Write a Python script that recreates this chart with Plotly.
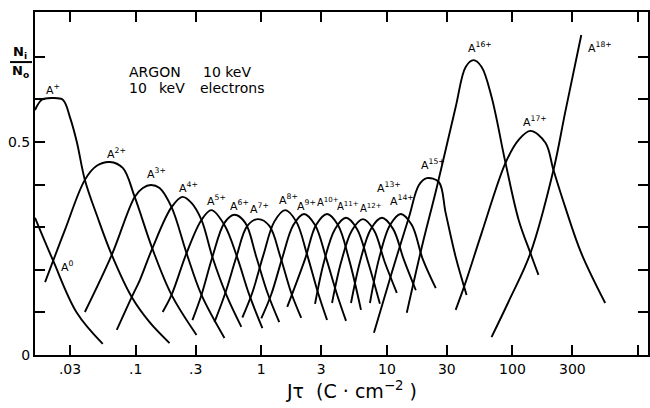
import numpy as np
import plotly.graph_objects as go

# ---- data (x = J*tau in C/cm^2, y = Ni/No) ----
A0_x = [0.0158, 0.0219, 0.0340, 0.0547]
A0_y = [0.322, 0.223, 0.099, 0.026]

A1_x = [0.0158, 0.0179, 0.0215, 0.0263, 0.0299, 0.0340, 0.0394, 0.0499, 0.0645, 0.0930, 0.129, 0.186]
A1_y = [0.575, 0.599, 0.603, 0.599, 0.559, 0.500, 0.411, 0.322, 0.235, 0.136, 0.077, 0.028]

A2_x = [0.0190, 0.0273, 0.0394, 0.0490, 0.0622, 0.0789, 0.0982, 0.136, 0.193, 0.305]
A2_y = [0.171, 0.293, 0.411, 0.444, 0.453, 0.439, 0.371, 0.249, 0.141, 0.047]

A3_x = [0.0394, 0.0645, 0.0982, 0.114, 0.132, 0.155, 0.193, 0.254, 0.334, 0.509]
A3_y = [0.101, 0.235, 0.371, 0.392, 0.399, 0.392, 0.347, 0.239, 0.141, 0.040]

A4_x = [0.0707, 0.0930, 0.108, 0.136, 0.193, 0.236, 0.278, 0.334, 0.408, 0.527, 0.694]
A4_y = [0.059, 0.136, 0.176, 0.251, 0.347, 0.371, 0.357, 0.317, 0.230, 0.141, 0.066]

A5_x = [0.164, 0.193, 0.254, 0.334, 0.401, 0.509, 0.645, 0.803, 1.02]
A5_y = [0.101, 0.141, 0.239, 0.317, 0.340, 0.305, 0.228, 0.141, 0.063]

A6_x = [0.283, 0.334, 0.408, 0.509, 0.611, 0.746, 0.913, 1.12, 1.39]
A6_y = [0.082, 0.141, 0.230, 0.310, 0.329, 0.310, 0.230, 0.146, 0.077]

A7_x = [0.424, 0.518, 0.633, 0.774, 0.947, 1.16, 1.42, 1.73, 2.08]
A7_y = [0.077, 0.146, 0.230, 0.303, 0.319, 0.303, 0.230, 0.146, 0.087]

A8_x = [0.707, 0.848, 1.04, 1.27, 1.55, 1.90, 2.32, 2.83, 3.34]
A8_y = [0.088, 0.146, 0.235, 0.313, 0.340, 0.313, 0.235, 0.146, 0.082]

A9_x = [1.00, 1.20, 1.47, 1.80, 2.19, 2.68, 3.28, 4.01, 4.73]
A9_y = [0.086, 0.142, 0.228, 0.305, 0.331, 0.305, 0.228, 0.142, 0.080]

A10_x = [1.61, 2.23, 2.73, 3.34, 4.08, 4.99, 6.22]
A10_y = [0.113, 0.225, 0.305, 0.331, 0.305, 0.225, 0.106]

A11_x = [2.68, 3.16, 3.87, 4.73, 5.78, 7.07, 8.80]
A11_y = [0.120, 0.219, 0.296, 0.322, 0.296, 0.219, 0.120]

A12_x = [3.66, 4.31, 5.28, 6.45, 7.89, 9.64, 12.0]
A12_y = [0.122, 0.217, 0.293, 0.319, 0.293, 0.217, 0.146]

A13_x = [5.18, 6.11, 7.46, 9.13, 11.2, 13.6, 17.0]
A13_y = [0.122, 0.219, 0.296, 0.322, 0.296, 0.225, 0.152]

A14_x = [7.33, 8.64, 10.6, 12.9, 15.8, 19.3, 24.5]
A14_y = [0.122, 0.225, 0.305, 0.331, 0.305, 0.225, 0.157]

A15_x = [7.89, 10.8, 15.0, 18.0, 20.8, 25.9, 29.4, 35.3, 43.1]
A15_y = [0.052, 0.188, 0.324, 0.399, 0.415, 0.406, 0.333, 0.230, 0.141]

A16_x = [14.4, 19.0, 24.9, 35.3, 42.4, 49.0, 56.8, 68.1, 88.0, 112, 139, 161]
A16_y = [0.099, 0.254, 0.392, 0.582, 0.676, 0.692, 0.676, 0.606, 0.451, 0.317, 0.239, 0.188]

A17_x = [35.3, 41.6, 56.8, 88.0, 112, 139, 183, 212, 263, 353, 547]
A17_y = [0.106, 0.164, 0.286, 0.451, 0.505, 0.526, 0.498, 0.434, 0.347, 0.239, 0.122]

A18_x = [68.1, 93.0, 139, 212, 263, 353]
A18_y = [0.042, 0.125, 0.239, 0.434, 0.570, 0.751]

label_text = ["A<sup>0</sup>", "A<sup>+</sup>", "A<sup>2+</sup>", "A<sup>3+</sup>", "A<sup>4+</sup>",
              "A<sup>5+</sup>", "A<sup>6+</sup>", "A<sup>7+</sup>", "A<sup>8+</sup>", "A<sup>9+</sup>",
              "A<sup>10+</sup>", "A<sup>11+</sup>", "A<sup>12+</sup>", "A<sup>13+</sup>", "A<sup>14+</sup>",
              "A<sup>15+</sup>", "A<sup>16+</sup>", "A<sup>17+</sup>", "A<sup>18+</sup>"]
label_x = [0.0289, 0.0219, 0.0707, 0.147, 0.263, 0.439, 0.669, 0.964, 1.64, 2.30,
           3.42, 4.90, 7.46, 10.4, 13.2, 23.2, 54.7, 150, 499]
label_y = [0.207, 0.622, 0.474, 0.427, 0.394, 0.362, 0.352, 0.345, 0.366, 0.352,
           0.360, 0.350, 0.344, 0.392, 0.362, 0.448, 0.721, 0.549, 0.721]
label_size = [11, 11, 11, 11, 11, 11, 11, 11, 11, 11,
              10, 10, 10, 11, 11, 11, 11, 11, 11]

x_tickvals = [0.03, 0.1, 0.3, 1, 3, 10, 30, 100, 300, 1000]
x_ticktext = [".03", ".1", ".3", "1", "3", "10", "30", "100", "300", ""]
y_tickvals = [0, 0.1, 0.2, 0.3, 0.4, 0.5, 0.6, 0.7]
y_ticktext = ["0", "", "", "", "", "0.5", "", ""]

series = [(A0_x, A0_y), (A1_x, A1_y), (A2_x, A2_y), (A3_x, A3_y), (A4_x, A4_y),
          (A5_x, A5_y), (A6_x, A6_y), (A7_x, A7_y), (A8_x, A8_y), (A9_x, A9_y),
          (A10_x, A10_y), (A11_x, A11_y), (A12_x, A12_y), (A13_x, A13_y), (A14_x, A14_y),
          (A15_x, A15_y), (A16_x, A16_y), (A17_x, A17_y), (A18_x, A18_y)]

FONT = "DejaVu Sans"

fig = go.Figure()
for sx, sy in series:
    fig.add_trace(go.Scatter(x=sx, y=sy, mode="lines", showlegend=False, hoverinfo="skip",
                             line=dict(color="black", width=1.9, shape="spline", smoothing=1.0)))

for t, lx, ly, ls in zip(label_text, label_x, label_y, label_size):
    fig.add_annotation(x=np.log10(lx), y=ly, xref="x", yref="y", text=t, showarrow=False,
                       font=dict(family=FONT, size=ls, color="black"),
                       xanchor="center", yanchor="middle", borderpad=0)

# text block (pieces placed where the lettering sits)
text_pieces = [("ARGON", 0.1496, 0.825), ("10 keV", 0.2715, 0.825),
               ("10", 0.1496, 0.778), ("keV", 0.1984, 0.778), ("electrons", 0.2667, 0.778)]
for t, px, py in text_pieces:
    fig.add_annotation(x=px, y=py, xref="paper", yref="paper", text=t,
                       showarrow=False, xanchor="left", yanchor="middle",
                       font=dict(family=FONT, size=14, color="black"))

# Ni / No axis label
fig.add_annotation(x=-0.0244, y=0.882, xref="paper", yref="paper", text="<b>N<sub>i</sub></b>",
                   showarrow=False, xanchor="center", yanchor="middle",
                   font=dict(family=FONT, size=13, color="black"))
fig.add_annotation(x=-0.0244, y=0.8265, xref="paper", yref="paper", text="<b>N<sub>o</sub></b>",
                   showarrow=False, xanchor="center", yanchor="middle",
                   font=dict(family=FONT, size=13, color="black"))
fig.add_shape(type="line", xref="paper", yref="paper", x0=-0.0407, x1=-0.0049, y0=0.854, y1=0.854,
              line=dict(color="black", width=2))

# x title
fig.add_annotation(x=0.5155, y=-0.102, xref="paper", yref="paper",
                   text="Jτ  (C · cm<sup>−2</sup> )", showarrow=False,
                   xanchor="center", yanchor="middle",
                   font=dict(family=FONT, size=19, color="black"))

fig.update_xaxes(type="log", range=[-1.8016, 3.079], tickvals=x_tickvals, ticktext=x_ticktext,
                 ticks="inside", ticklen=10, tickwidth=1.5, tickcolor="black",
                 showline=True, linewidth=2, linecolor="black", mirror="ticks",
                 showgrid=False, zeroline=False,
                 tickfont=dict(family=FONT, size=14, color="black"))
fig.update_yaxes(range=[0, 0.805], tickvals=y_tickvals, ticktext=y_ticktext,
                 ticks="inside", ticklen=10, tickwidth=1.5, tickcolor="black",
                 showline=True, linewidth=2, linecolor="black", mirror="ticks",
                 showgrid=False, zeroline=False,
                 tickfont=dict(family=FONT, size=14, color="black"))

fig.update_layout(width=650, height=408, autosize=False,
                  margin=dict(l=35, r=0, t=12, b=53),
                  plot_bgcolor="white", paper_bgcolor="white",
                  font=dict(family=FONT, color="black"))

fig.write_html("out.html")
